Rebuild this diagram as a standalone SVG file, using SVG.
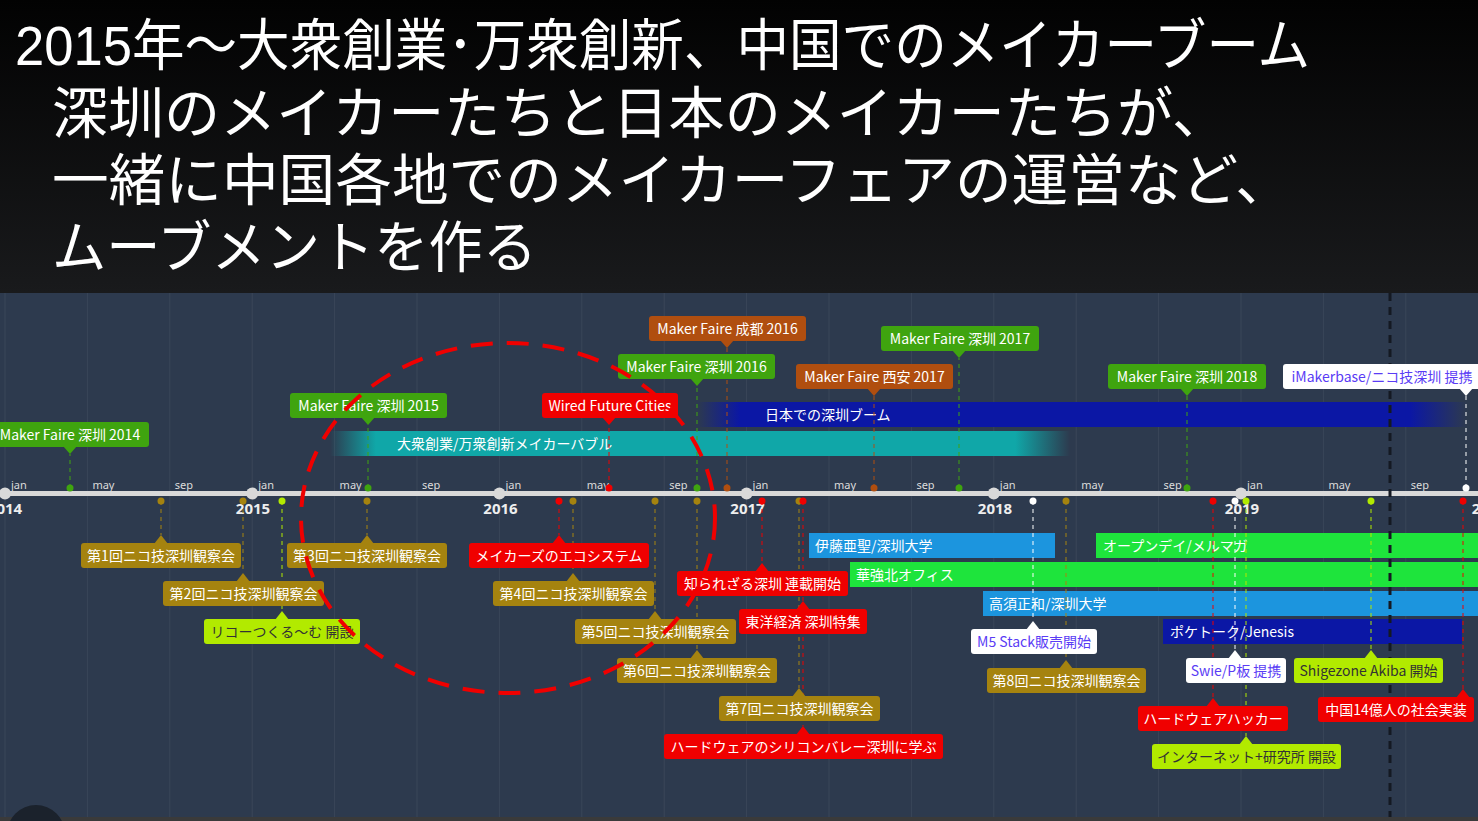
<svg xmlns="http://www.w3.org/2000/svg" width="1478" height="821" viewBox="0 0 1478 821">
<defs>
<linearGradient id="titleBg" x1="0" y1="0" x2="0" y2="1">
<stop offset="0" stop-color="#020202"/><stop offset="1" stop-color="#191a1c"/>
</linearGradient>
<linearGradient id="tealFade" gradientUnits="userSpaceOnUse" x1="330" y1="0" x2="1070" y2="0">
<stop offset="0" stop-color="#10a7a8" stop-opacity="0"/>
<stop offset="0.062" stop-color="#10a7a8" stop-opacity="1"/>
<stop offset="0.926" stop-color="#10a7a8" stop-opacity="1"/>
<stop offset="1" stop-color="#10a7a8" stop-opacity="0"/>
</linearGradient>
<linearGradient id="blueFade" gradientUnits="userSpaceOnUse" x1="697" y1="0" x2="1467" y2="0">
<stop offset="0" stop-color="#0b17a5" stop-opacity="0"/>
<stop offset="0.056" stop-color="#0b17a5" stop-opacity="1"/>
<stop offset="0.926" stop-color="#0b17a5" stop-opacity="1"/>
<stop offset="1" stop-color="#0b17a5" stop-opacity="0"/>
</linearGradient>
<style>
.title{font-family:"Liberation Sans","Noto Sans CJK JP",sans-serif;font-size:56px;fill:#ffffff}
.lbl{font-family:"Noto Sans CJK JP","Noto Sans",sans-serif;font-size:14px;fill:#ffffff;text-anchor:middle}
.band{font-family:"Noto Sans CJK JP","Noto Sans",sans-serif;font-size:14px;fill:#ffffff}
.dark{fill:#333333}
.purple{fill:#5a3cf5}
.mon{font-family:"Noto Sans","Liberation Sans",sans-serif;font-size:11px;fill:#dcdcdc}
.yr{font-family:"Noto Sans","Liberation Sans",sans-serif;font-size:15px;font-weight:bold;fill:#eeeeee;text-anchor:middle}
.grid{stroke:#3a4659;stroke-width:1}
.green{fill:#3fa40f}.brown{fill:#b04e0f}.red{fill:#f00000}.gold{fill:#a5830f}.lime{fill:#b2ea00}.white{fill:#ffffff}
.sgreen{stroke:#3fa40f}.sbrown{stroke:#b04e0f}.sred{stroke:#f00000}.sgold{stroke:#a5830f}.slime{stroke:#b2ea00}.swhite{stroke:#ffffff}
.dash{stroke-width:2;stroke-dasharray:4 4;stroke-opacity:0.5;fill:none}
</style>
</defs>

<!-- backgrounds -->
<rect x="0" y="0" width="1478" height="293" fill="url(#titleBg)"/>
<rect x="0" y="293" width="1478" height="528" fill="#2d3a4e"/>

<!-- grid -->
<g id="grid" class="grid">
<line x1="5" y1="293" x2="5" y2="817"/><line x1="87.4" y1="293" x2="87.4" y2="817"/><line x1="169.8" y1="293" x2="169.8" y2="817"/>
<line x1="252.2" y1="293" x2="252.2" y2="817"/><line x1="334.6" y1="293" x2="334.6" y2="817"/><line x1="417" y1="293" x2="417" y2="817"/>
<line x1="499.4" y1="293" x2="499.4" y2="817"/><line x1="581.8" y1="293" x2="581.8" y2="817"/><line x1="664.2" y1="293" x2="664.2" y2="817"/>
<line x1="746.6" y1="293" x2="746.6" y2="817"/><line x1="829" y1="293" x2="829" y2="817"/><line x1="911.4" y1="293" x2="911.4" y2="817"/>
<line x1="993.8" y1="293" x2="993.8" y2="817"/><line x1="1076.2" y1="293" x2="1076.2" y2="817"/><line x1="1158.6" y1="293" x2="1158.6" y2="817"/>
<line x1="1241" y1="293" x2="1241" y2="817"/><line x1="1323.4" y1="293" x2="1323.4" y2="817"/><line x1="1405.8" y1="293" x2="1405.8" y2="817"/>
</g>

<!-- title -->
<g id="title">
<text class="title" x="15" y="65" textLength="1295" lengthAdjust="spacingAndGlyphs">2015年～大衆創業･万衆創新、中国でのメイカーブーム</text>
<text class="title" x="52" y="133" textLength="1176" lengthAdjust="spacingAndGlyphs">深圳のメイカーたちと日本のメイカーたちが、</text>
<text class="title" x="52" y="200" textLength="1240" lengthAdjust="spacingAndGlyphs">一緒に中国各地でのメイカーフェアの運営など、</text>
<text class="title" x="52" y="267" textLength="485" lengthAdjust="spacingAndGlyphs">ムーブメントを作る</text>
</g>

<!-- bands -->
<g id="band-bubble"><rect x="330" y="431" width="740" height="25" fill="url(#tealFade)"/><text class="band" x="397" y="448.5">大衆創業/万衆創新メイカーバブル</text></g>
<g id="band-boom"><rect x="697" y="402" width="770" height="25" fill="url(#blueFade)"/><text class="band" x="765" y="419.5">日本での深圳ブーム</text></g>
<g id="band-ito"><rect x="809" y="533" width="246" height="25" fill="#1c95de"/><text class="band" x="815" y="550.5">伊藤亜聖/深圳大学</text></g>
<g id="band-hqb"><rect x="850" y="562" width="640" height="25" fill="#1ee43c"/><text class="band" x="856" y="579.5">華強北オフィス</text></g>
<g id="band-open"><rect x="1096" y="533" width="400" height="25" fill="#1ee43c"/><text class="band" x="1103" y="550.5">オープンデイ/メルマガ</text></g>
<g id="band-takasu"><rect x="983" y="591" width="510" height="25" fill="#1c95de"/><text class="band" x="989" y="608.5">高須正和/深圳大学</text></g>
<g id="band-pocketalk"><rect x="1163" y="619" width="299" height="25" fill="#0b17a5"/><text class="band" x="1170" y="636.5">ポケトーク/Jenesis</text></g>

<!-- axis -->
<g id="axis">
<line x1="0" y1="493.5" x2="1478" y2="493.5" stroke="#d9d9d9" stroke-width="5"/>
<g fill="#d9d9d9">
<circle cx="5" cy="493.5" r="6"/><circle cx="87.4" cy="493.5" r="2.5"/><circle cx="169.8" cy="493.5" r="2.5"/>
<circle cx="252.2" cy="493.5" r="6"/><circle cx="334.6" cy="493.5" r="2.5"/><circle cx="417" cy="493.5" r="2.5"/>
<circle cx="499.4" cy="493.5" r="6"/><circle cx="581.8" cy="493.5" r="2.5"/><circle cx="664.2" cy="493.5" r="2.5"/>
<circle cx="746.6" cy="493.5" r="6"/><circle cx="829" cy="493.5" r="2.5"/><circle cx="911.4" cy="493.5" r="2.5"/>
<circle cx="993.8" cy="493.5" r="6"/><circle cx="1076.2" cy="493.5" r="2.5"/><circle cx="1158.6" cy="493.5" r="2.5"/>
<circle cx="1241" cy="493.5" r="6"/><circle cx="1323.4" cy="493.5" r="2.5"/><circle cx="1405.8" cy="493.5" r="2.5"/>
</g>
<text class="mon" x="11" y="489">jan</text><text class="mon" x="92.4" y="489">may</text><text class="mon" x="174.8" y="489">sep</text>
<text class="mon" x="258.2" y="489">jan</text><text class="mon" x="339.6" y="489">may</text><text class="mon" x="422" y="489">sep</text>
<text class="mon" x="505.4" y="489">jan</text><text class="mon" x="586.8" y="489">may</text><text class="mon" x="669.2" y="489">sep</text>
<text class="mon" x="752.6" y="489">jan</text><text class="mon" x="834" y="489">may</text><text class="mon" x="916.4" y="489">sep</text>
<text class="mon" x="999.8" y="489">jan</text><text class="mon" x="1081.2" y="489">may</text><text class="mon" x="1163.6" y="489">sep</text>
<text class="mon" x="1247" y="489">jan</text><text class="mon" x="1328.4" y="489">may</text><text class="mon" x="1410.8" y="489">sep</text>
<text class="yr" x="5" y="514">2014</text><text class="yr" x="253" y="514">2015</text><text class="yr" x="500.5" y="514">2016</text>
<text class="yr" x="747.5" y="514">2017</text><text class="yr" x="995" y="514">2018</text><text class="yr" x="1242" y="514">2019</text>
<text class="yr" x="1489" y="514">2020</text>
</g>

<!-- connectors -->
<g id="connectors">
<line class="dash sgreen" x1="70" y1="488" x2="70" y2="454"/>
<line class="dash sgreen" x1="368" y1="488" x2="368" y2="425"/>
<line class="dash sred" x1="609" y1="488" x2="609" y2="425"/>
<line class="dash sgreen" x1="697" y1="488" x2="697" y2="386"/>
<line class="dash sbrown" x1="727" y1="488" x2="727" y2="348"/>
<line class="dash sbrown" x1="874" y1="488" x2="874" y2="396"/>
<line class="dash sgreen" x1="959" y1="488" x2="959" y2="358"/>
<line class="dash sgreen" x1="1187" y1="488" x2="1187" y2="396"/>
<line class="dash swhite" x1="1466" y1="488" x2="1466" y2="396"/>
<line class="dash sgold" x1="161" y1="501" x2="161" y2="535"/>
<line class="dash sgold" x1="243" y1="501" x2="243" y2="573"/>
<line class="dash slime" x1="282" y1="501" x2="282" y2="611"/>
<line class="dash sgold" x1="367" y1="501" x2="367" y2="535"/>
<line class="dash sred" x1="559" y1="501" x2="559" y2="535"/>
<line class="dash sgold" x1="573" y1="501" x2="573" y2="573"/>
<line class="dash sgold" x1="655" y1="501" x2="655" y2="611"/>
<line class="dash sgold" x1="697" y1="501" x2="697" y2="650"/>
<line class="dash sred" x1="762" y1="501" x2="762" y2="563"/>
<line class="dash sgold" x1="799" y1="501" x2="799" y2="688"/>
<line class="dash sred" x1="803" y1="501" x2="803" y2="726"/>
<line class="dash swhite" x1="1033" y1="501" x2="1033" y2="621"/>
<line class="dash sgold" x1="1066" y1="501" x2="1066" y2="660"/>
<line class="dash sred" x1="1213" y1="501" x2="1213" y2="698"/>
<line class="dash swhite" x1="1235" y1="501" x2="1235" y2="650"/>
<line class="dash slime" x1="1246" y1="501" x2="1246" y2="736"/>
<line class="dash slime" x1="1371" y1="501" x2="1371" y2="650"/>
<line class="dash sred" x1="1463" y1="501" x2="1463" y2="689"/>
<line x1="1390" y1="293" x2="1390" y2="821" stroke="#141922" stroke-width="3" stroke-dasharray="8 6"/>
</g>

<!-- dots -->
<g id="dots">
<circle class="green" cx="70" cy="488" r="3.5"/><circle class="green" cx="368" cy="488" r="3.5"/><circle class="red" cx="609" cy="488" r="3.5"/>
<circle class="green" cx="697" cy="488" r="3.5"/><circle class="brown" cx="727" cy="488" r="3.5"/><circle class="brown" cx="874" cy="488" r="3.5"/>
<circle class="green" cx="959" cy="488" r="3.5"/><circle class="green" cx="1187" cy="488" r="3.5"/><circle class="white" cx="1466" cy="488" r="3.5"/>
<circle class="gold" cx="161" cy="501" r="3.5"/><circle class="gold" cx="243" cy="501" r="3.5"/><circle class="lime" cx="282" cy="501" r="3.5"/>
<circle class="gold" cx="367" cy="501" r="3.5"/><circle class="red" cx="559" cy="501" r="3.5"/><circle class="gold" cx="573" cy="501" r="3.5"/>
<circle class="gold" cx="655" cy="501" r="3.5"/><circle class="gold" cx="697" cy="501" r="3.5"/><circle class="red" cx="762" cy="501" r="3.5"/>
<circle class="gold" cx="799" cy="501" r="3.5"/><circle class="red" cx="803" cy="501" r="3.5"/><circle class="white" cx="1033" cy="501" r="3.5"/>
<circle class="gold" cx="1066" cy="501" r="3.5"/><circle class="red" cx="1213" cy="501" r="3.5"/><circle class="white" cx="1235" cy="501" r="3.5"/>
<circle class="lime" cx="1246" cy="501" r="3.5"/><circle class="lime" cx="1371" cy="501" r="3.5"/><circle class="red" cx="1463" cy="501" r="3.5"/>
</g>

<!-- top labels -->
<g id="mf-sz-2014"><rect class="green" x="-9" y="422" width="158" height="25" rx="3"/><polygon class="green" points="63,446 77,446 70,454"/><text class="lbl" x="70" y="439.5">Maker Faire 深圳 2014</text></g>
<g id="mf-sz-2015"><rect class="green" x="290" y="393" width="157" height="25" rx="3"/><polygon class="green" points="361,417 375,417 368,425"/><text class="lbl" x="368.5" y="410.5">Maker Faire 深圳 2015</text></g>
<g id="wired"><rect class="red" x="542" y="393" width="136" height="25" rx="3"/><polygon class="red" points="602,417 616,417 609,425"/><text class="lbl" x="610" y="410.5">Wired Future Cities</text></g>
<g id="mf-sz-2016"><rect class="green" x="618" y="354" width="157" height="25" rx="3"/><polygon class="green" points="690,378 704,378 697,386"/><text class="lbl" x="696.5" y="371.5">Maker Faire 深圳 2016</text></g>
<g id="mf-cd-2016"><rect class="brown" x="649" y="316" width="157" height="25" rx="3"/><polygon class="brown" points="720,340 734,340 727,348"/><text class="lbl" x="727.5" y="333.5">Maker Faire 成都 2016</text></g>
<g id="mf-xa-2017"><rect class="brown" x="796" y="364" width="157" height="25" rx="3"/><polygon class="brown" points="867,388 881,388 874,396"/><text class="lbl" x="874.5" y="381.5">Maker Faire 西安 2017</text></g>
<g id="mf-sz-2017"><rect class="green" x="881" y="326" width="158" height="25" rx="3"/><polygon class="green" points="952,350 966,350 959,358"/><text class="lbl" x="960" y="343.5">Maker Faire 深圳 2017</text></g>
<g id="mf-sz-2018"><rect class="green" x="1108" y="364" width="158" height="25" rx="3"/><polygon class="green" points="1180,388 1194,388 1187,396"/><text class="lbl" x="1187" y="381.5">Maker Faire 深圳 2018</text></g>
<g id="imakerbase"><rect class="white" x="1283" y="364" width="200" height="25" rx="3"/><polygon class="white" points="1459,388 1473,388 1466,396"/><text class="lbl purple" x="1382" y="381.5">iMakerbase/ニコ技深圳 提携</text></g>

<!-- bottom labels -->
<g id="niko1"><rect class="gold" x="81" y="543" width="160" height="25" rx="3"/><polygon class="gold" points="154,544 168,544 161,535"/><text class="lbl" x="161" y="560.5">第1回ニコ技深圳観察会</text></g>
<g id="niko2"><rect class="gold" x="163" y="581" width="161" height="25" rx="3"/><polygon class="gold" points="236,582 250,582 243,573"/><text class="lbl" x="243.5" y="598.5">第2回ニコ技深圳観察会</text></g>
<g id="ricoh"><rect class="lime" x="204" y="619" width="156" height="25" rx="3"/><polygon class="lime" points="275,620 289,620 282,611"/><text class="lbl dark" x="282" y="636.5">リコーつくる～む 開設</text></g>
<g id="niko3"><rect class="gold" x="287" y="543" width="160" height="25" rx="3"/><polygon class="gold" points="360,544 374,544 367,535"/><text class="lbl" x="367" y="560.5">第3回ニコ技深圳観察会</text></g>
<g id="ecosystem"><rect class="red" x="469" y="543" width="180" height="25" rx="3"/><polygon class="red" points="552,544 566,544 559,535"/><text class="lbl" x="559" y="560.5">メイカーズのエコシステム</text></g>
<g id="niko4"><rect class="gold" x="493" y="581" width="161" height="25" rx="3"/><polygon class="gold" points="566,582 580,582 573,573"/><text class="lbl" x="573.5" y="598.5">第4回ニコ技深圳観察会</text></g>
<g id="niko5"><rect class="gold" x="575" y="619" width="161" height="25" rx="3"/><polygon class="gold" points="648,620 662,620 655,611"/><text class="lbl" x="655.5" y="636.5">第5回ニコ技深圳観察会</text></g>
<g id="niko6"><rect class="gold" x="617" y="658" width="160" height="25" rx="3"/><polygon class="gold" points="690,659 704,659 697,650"/><text class="lbl" x="697" y="675.5">第6回ニコ技深圳観察会</text></g>
<g id="shirarezaru"><rect class="red" x="677" y="571" width="171" height="25" rx="3"/><polygon class="red" points="755,572 769,572 762,563"/><text class="lbl" x="762.5" y="588.5">知られざる深圳 連載開始</text></g>
<g id="toyokeizai"><rect class="red" x="739" y="609" width="128" height="25" rx="3"/><polygon class="red" points="796,610 810,610 803,601"/><text class="lbl" x="803" y="626.5">東洋経済 深圳特集</text></g>
<g id="niko7"><rect class="gold" x="719" y="696" width="161" height="25" rx="3"/><polygon class="gold" points="792,697 806,697 799,688"/><text class="lbl" x="799.5" y="713.5">第7回ニコ技深圳観察会</text></g>
<g id="siliconvalley"><rect class="red" x="664" y="734" width="279" height="25" rx="3"/><polygon class="red" points="796,735 810,735 803,726"/><text class="lbl" x="803.5" y="751.5">ハードウェアのシリコンバレー深圳に学ぶ</text></g>
<g id="m5stack"><rect class="white" x="971" y="629" width="126" height="25" rx="3"/><polygon class="white" points="1026,630 1040,630 1033,621"/><text class="lbl purple" x="1034" y="646.5">M5 Stack販売開始</text></g>
<g id="niko8"><rect class="gold" x="987" y="668" width="159" height="25" rx="3"/><polygon class="gold" points="1059,669 1073,669 1066,660"/><text class="lbl" x="1066.5" y="685.5">第8回ニコ技深圳観察会</text></g>
<g id="swie"><rect class="white" x="1186" y="658" width="100" height="25" rx="3"/><polygon class="white" points="1228,659 1242,659 1235,650"/><text class="lbl purple" x="1236" y="675.5">Swie/P板 提携</text></g>
<g id="shigezone"><rect class="lime" x="1294" y="658" width="149" height="25" rx="3"/><polygon class="lime" points="1364,659 1378,659 1371,650"/><text class="lbl dark" x="1368.5" y="675.5">Shigezone Akiba 開始</text></g>
<g id="hwhacker"><rect class="red" x="1138" y="706" width="150" height="25" rx="3"/><polygon class="red" points="1206,707 1220,707 1213,698"/><text class="lbl" x="1213" y="723.5">ハードウェアハッカー</text></g>
<g id="china14"><rect class="red" x="1318" y="697" width="156" height="25" rx="3"/><polygon class="red" points="1456,698 1470,698 1463,689"/><text class="lbl" x="1396" y="714.5">中国14億人の社会実装</text></g>
<g id="internetplus"><rect class="lime" x="1152" y="744" width="189" height="25" rx="3"/><polygon class="lime" points="1239,745 1253,745 1246,736"/><text class="lbl dark" x="1246.5" y="761.5">インターネット+研究所 開設</text></g>

<!-- highlight ellipse -->
<ellipse id="highlight" cx="508" cy="518" rx="207" ry="175" fill="none" stroke="#f00000" stroke-width="4" stroke-dasharray="22 14"/>

<!-- bottom edge -->
<rect x="0" y="817" width="1478" height="4" fill="#3a3a3a"/>
<circle cx="36" cy="834" r="29" fill="#1b222c"/>
</svg>
